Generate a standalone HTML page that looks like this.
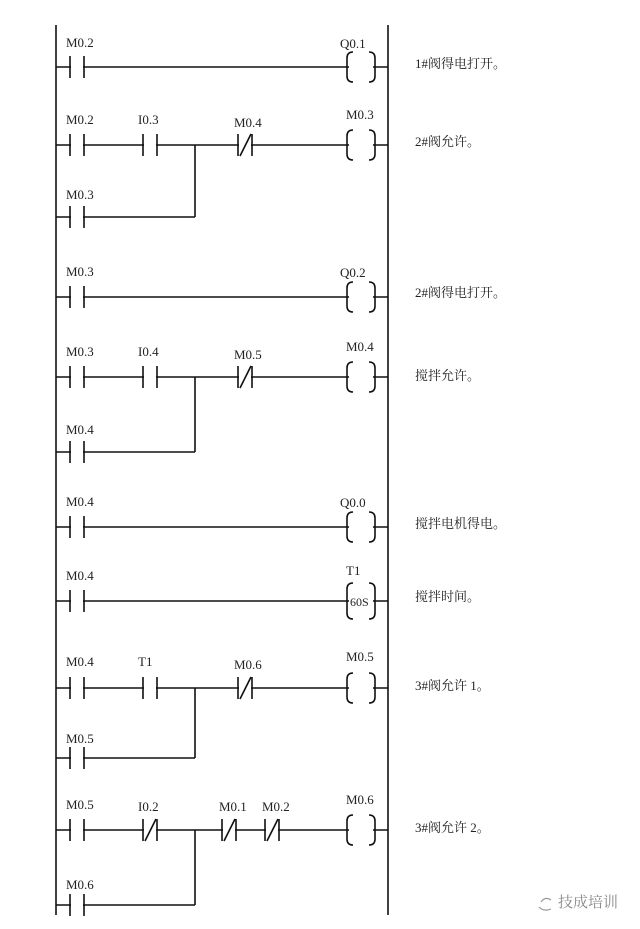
<!DOCTYPE html>
<html><head><meta charset="utf-8"><style>
html,body{margin:0;padding:0;background:#fff;}
svg{display:block}
text{font-family:"Liberation Serif",serif;font-size:13px;fill:#222}
.cn{font-family:"Liberation Serif","Noto Serif CJK SC",serif;font-size:13px;fill:#222}
</style></head><body>
<svg width="640" height="929" viewBox="0 0 640 929" xmlns="http://www.w3.org/2000/svg" stroke="#111" stroke-width="1.6" fill="none">
<defs>
<g id="no"><rect x="-6" y="-1.5" width="12" height="3" fill="#fff" stroke="none"/><line x1="-7" y1="-11" x2="-7" y2="11"/><line x1="7" y1="-11" x2="7" y2="11"/></g>
<g id="nc"><rect x="-6" y="-1.5" width="12" height="3" fill="#fff" stroke="none"/><line x1="-7" y1="-11" x2="-7" y2="11"/><line x1="7" y1="-11" x2="7" y2="11"/><line x1="-5" y1="11" x2="6" y2="-11"/></g>
<g id="coil"><rect x="-12" y="-2" width="24" height="4" fill="#fff" stroke="none"/><path d="M-8,-15 Q-14,-15 -14,-9 L-14,9 Q-14,15 -8,15"/><path d="M8,-15 Q14,-15 14,-9 L14,9 Q14,15 8,15"/></g>
</defs>
<line x1="56" y1="25" x2="56" y2="915"/>
<line x1="388" y1="25" x2="388" y2="915"/>

<line x1="56" y1="67" x2="388" y2="67"/>
<use href="#no" x="77" y="67"/><use href="#coil" x="361" y="67"/>

<line x1="56" y1="145" x2="388" y2="145"/>
<use href="#no" x="77" y="145"/><use href="#no" x="150" y="145"/><use href="#nc" x="245" y="145"/><use href="#coil" x="361" y="145"/>
<line x1="56" y1="217" x2="195" y2="217"/><line x1="195" y1="145" x2="195" y2="217"/>
<use href="#no" x="77" y="217"/>

<line x1="56" y1="297" x2="388" y2="297"/>
<use href="#no" x="77" y="297"/><use href="#coil" x="361" y="297"/>

<line x1="56" y1="377" x2="388" y2="377"/>
<use href="#no" x="77" y="377"/><use href="#no" x="150" y="377"/><use href="#nc" x="245" y="377"/><use href="#coil" x="361" y="377"/>
<line x1="56" y1="452" x2="195" y2="452"/><line x1="195" y1="377" x2="195" y2="452"/>
<use href="#no" x="77" y="452"/>

<line x1="56" y1="527" x2="388" y2="527"/>
<use href="#no" x="77" y="527"/><use href="#coil" x="361" y="527"/>

<line x1="56" y1="601" x2="388" y2="601"/>
<use href="#no" x="77" y="601"/>
<rect x="349" y="596" width="24" height="10" fill="#fff" stroke="none"/>
<path d="M353,583 Q347,583 347,589 L347,613 Q347,619 353,619"/><path d="M369,583 Q375,583 375,589 L375,613 Q375,619 369,619"/>

<line x1="56" y1="688" x2="388" y2="688"/>
<use href="#no" x="77" y="688"/><use href="#no" x="150" y="688"/><use href="#nc" x="245" y="688"/><use href="#coil" x="361" y="688"/>
<line x1="56" y1="758" x2="195" y2="758"/><line x1="195" y1="688" x2="195" y2="758"/>
<use href="#no" x="77" y="758"/>

<line x1="56" y1="830" x2="388" y2="830"/>
<use href="#no" x="77" y="830"/><use href="#nc" x="150" y="830"/><use href="#nc" x="229" y="830"/><use href="#nc" x="272" y="830"/><use href="#coil" x="361" y="830"/>
<line x1="56" y1="905" x2="195" y2="905"/><line x1="195" y1="830" x2="195" y2="905"/>
<use href="#no" x="77" y="905"/>

<g stroke="none">
<text x="66" y="47">M0.2</text><text x="340" y="48">Q0.1</text>
<text x="66" y="124">M0.2</text><text x="138" y="124">I0.3</text><text x="234" y="127">M0.4</text><text x="346" y="119">M0.3</text>
<text x="66" y="199">M0.3</text>
<text x="66" y="276">M0.3</text><text x="340" y="277">Q0.2</text>
<text x="66" y="356">M0.3</text><text x="138" y="356">I0.4</text><text x="234" y="359">M0.5</text><text x="346" y="351">M0.4</text>
<text x="66" y="434">M0.4</text>
<text x="66" y="506">M0.4</text><text x="340" y="507">Q0.0</text>
<text x="66" y="580">M0.4</text><text x="346" y="575">T1</text><text x="350" y="606" style="font-size:12px">60S</text>
<text x="66" y="666">M0.4</text><text x="138" y="666">T1</text><text x="234" y="669">M0.6</text><text x="346" y="661">M0.5</text>
<text x="66" y="743">M0.5</text>
<text x="66" y="809">M0.5</text><text x="138" y="811">I0.2</text><text x="219" y="811">M0.1</text><text x="262" y="811">M0.2</text><text x="346" y="804">M0.6</text>
<text x="66" y="889">M0.6</text>
<text class="cn" x="415" y="68">1#阀得电打开。</text>
<text class="cn" x="415" y="146">2#阀允许。</text>
<text class="cn" x="415" y="297">2#阀得电打开。</text>
<text class="cn" x="415" y="380">搅拌允许。</text>
<text class="cn" x="415" y="528">搅拌电机得电。</text>
<text class="cn" x="415" y="601">搅拌时间。</text>
<text class="cn" x="415" y="690">3#阀允许 1。</text>
<text class="cn" x="415" y="832">3#阀允许 2。</text>
<text class="cn" x="558" y="907" style="font-size:15px;fill:#888">技成培训</text>
</g>
<path d="M541,902 q4,-6 10,-2 M539,907 q5,5 12,2" stroke="#999" stroke-width="1.2"/>
</svg>
</body></html>
